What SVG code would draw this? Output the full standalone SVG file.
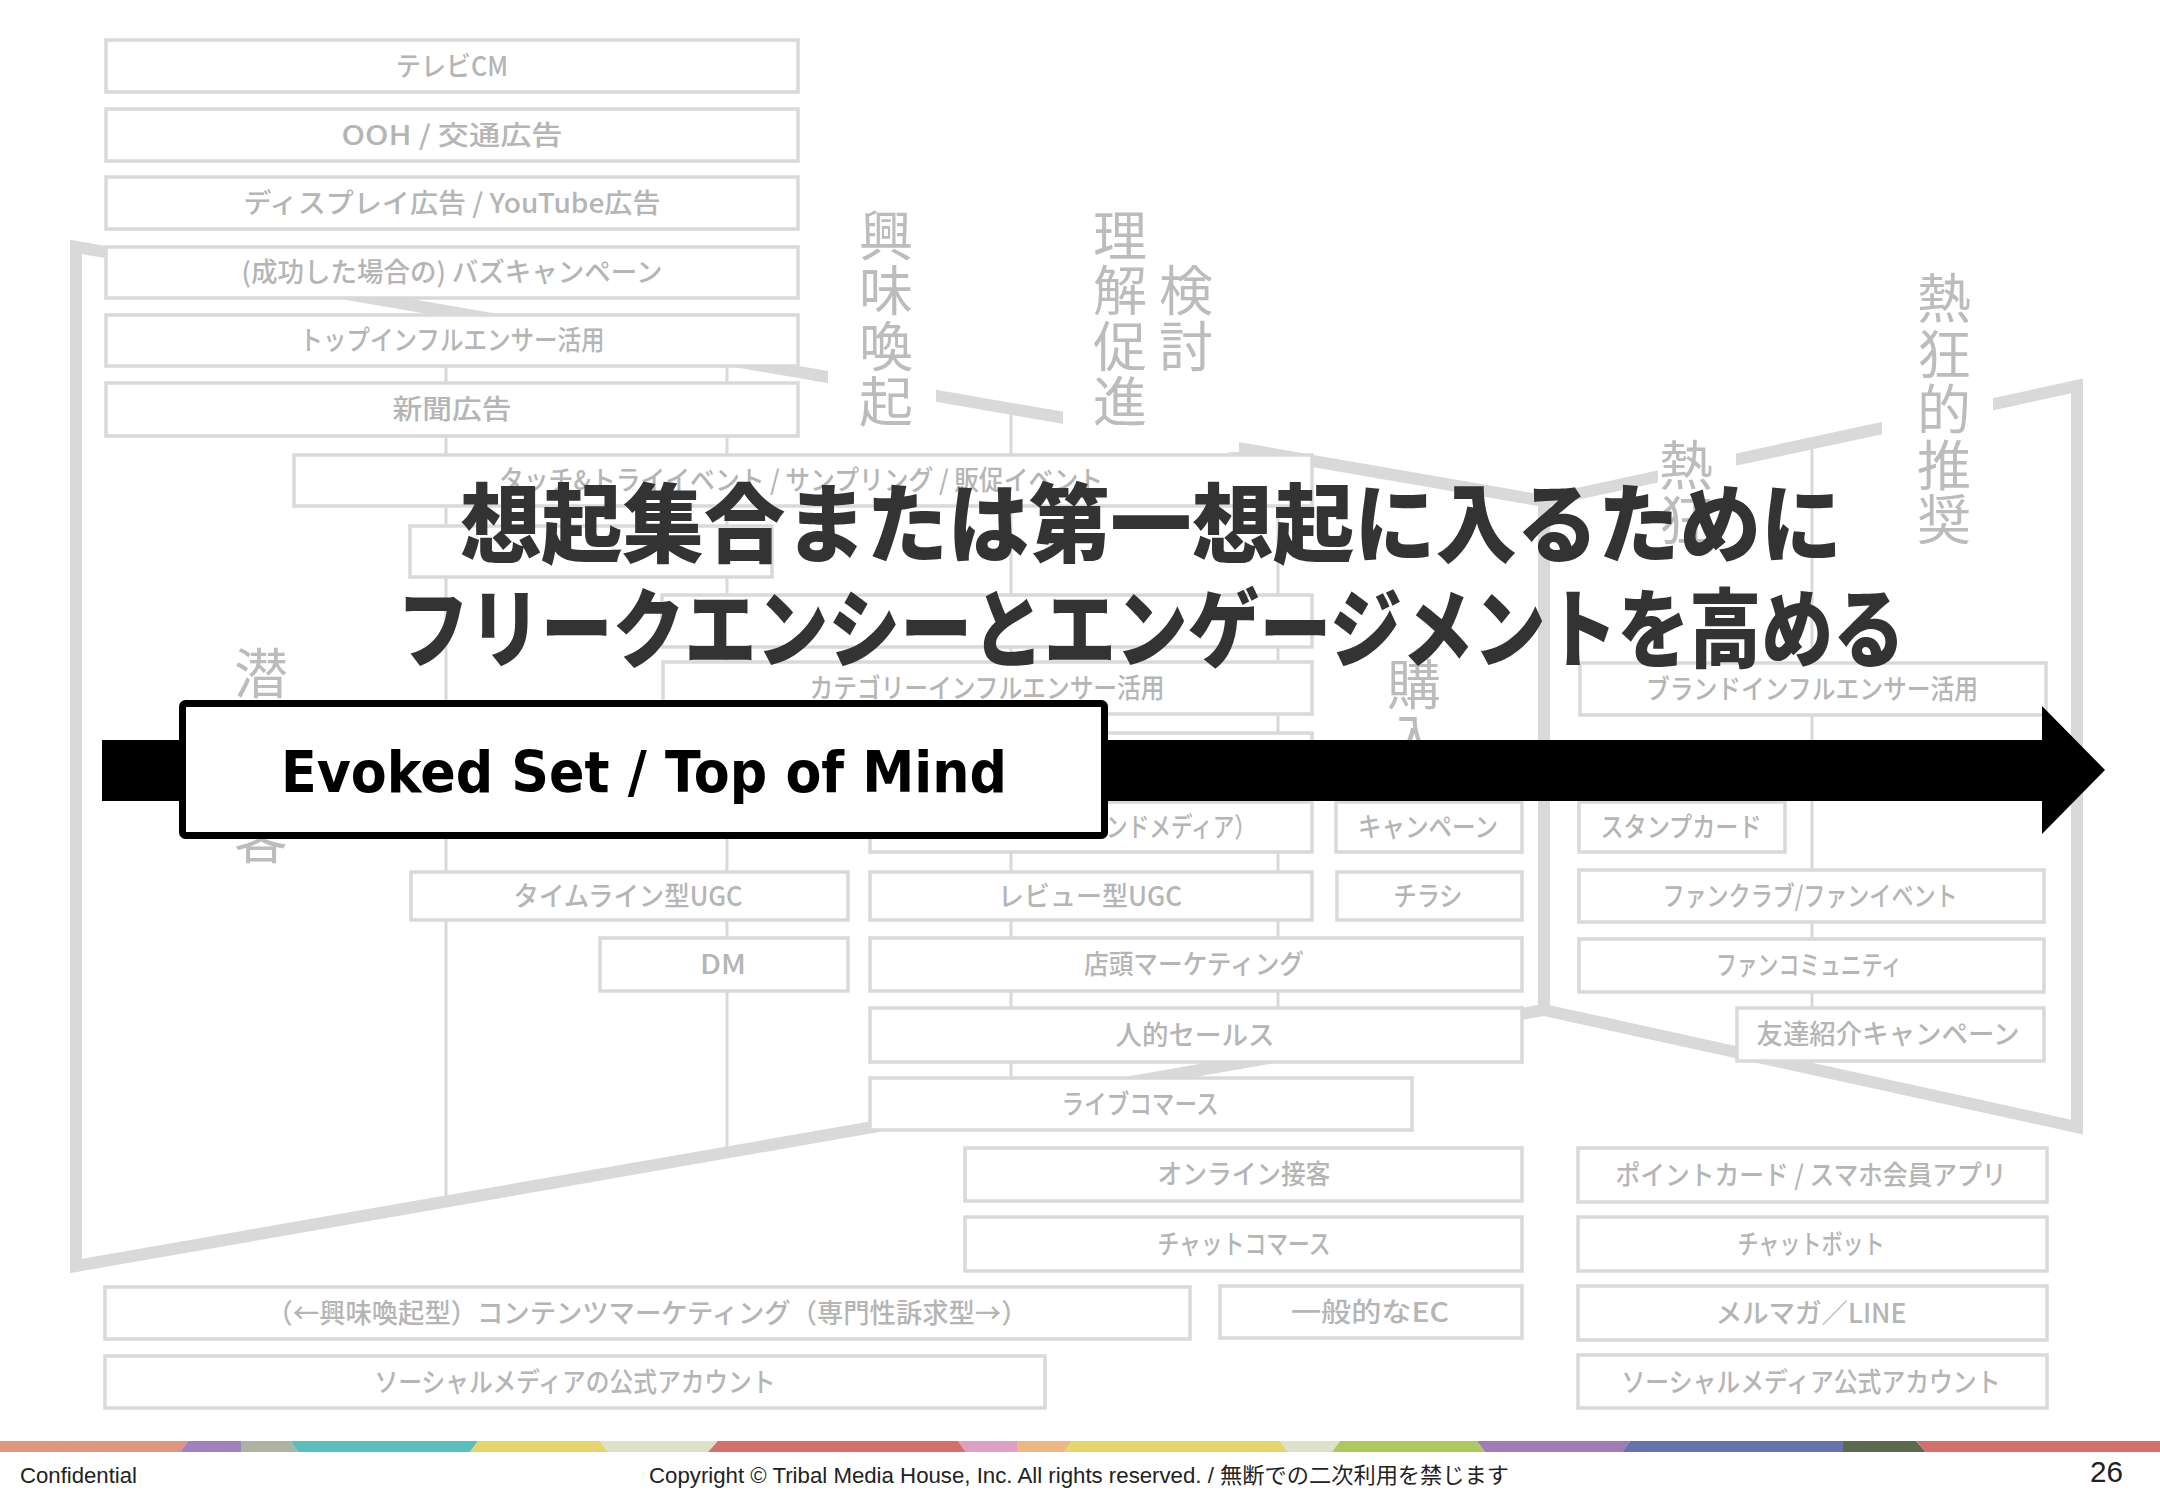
<svg xmlns="http://www.w3.org/2000/svg" width="2160" height="1495" viewBox="0 0 2160 1495">
<style>
.box{fill:#fff;stroke:#d9d9d9;stroke-width:3.5}
.lbl{font-family:"Noto Sans CJK JP","Liberation Sans",sans-serif;font-size:27px;font-weight:500;fill:#b5b5b5;text-anchor:middle}
.stage{font-family:"Noto Sans CJK JP",sans-serif;font-size:54px;fill:#bcbcbc;text-anchor:middle}
.band{fill:none;stroke:#d9d9d9;stroke-width:12;stroke-linejoin:miter}
.thin{stroke:#d9d9d9;stroke-width:3;fill:none}
.title{font-family:"Noto Sans CJK JP",sans-serif;font-size:86px;font-weight:900;fill:#333}
.foot{font-family:"Liberation Sans","Noto Sans CJK JP",sans-serif;fill:#222}
</style>
<rect width="2160" height="1495" fill="#fff"/>

<g id="funnel-outline">
<polygon class="band" points="76,247 1544,501 1544,1010 76,1266"/>
<polygon class="band" points="1544,501 2077,386 2077,1127 1544,1010"/>
</g>

<g id="connectors">
<line class="thin" x1="446" y1="311" x2="446" y2="1202"/>
<line class="thin" x1="727" y1="360" x2="727" y2="1153"/>
<line class="thin" x1="1011" y1="409" x2="1011" y2="1103"/>
<line class="thin" x1="1278" y1="455" x2="1278" y2="1057"/>
<line class="thin" x1="1812" y1="443" x2="1812" y2="1069"/>
</g>

<g id="stage-backgrounds" fill="#fff">
<rect x="828" y="200" width="108" height="235"/>
<rect x="1063" y="200" width="176" height="252"/>
<rect x="1882" y="262" width="111" height="290"/>
<rect x="1658" y="432" width="78" height="120"/>
</g>

<g id="left-boxes">
<g id="n-tvcm"><rect class="box" x="106" y="40" width="692" height="52"/><text class="lbl" x="452" y="76" textLength="112" lengthAdjust="spacingAndGlyphs">テレビCM</text></g>
<g id="n-ooh"><rect class="box" x="106" y="109" width="692" height="52"/><text class="lbl" x="452" y="145" textLength="221" lengthAdjust="spacingAndGlyphs">OOH / 交通広告</text></g>
<g id="n-display"><rect class="box" x="106" y="177" width="692" height="52"/><text class="lbl" x="452" y="213" textLength="417" lengthAdjust="spacingAndGlyphs">ディスプレイ広告 / YouTube広告</text></g>
<g id="n-buzz"><rect class="box" x="106" y="247" width="692" height="51"/><text class="lbl" x="452" y="282" textLength="421" lengthAdjust="spacingAndGlyphs">(成功した場合の) バズキャンペーン</text></g>
<g id="n-topinf"><rect class="box" x="106" y="315" width="692" height="51"/><text class="lbl" x="452" y="350" textLength="305" lengthAdjust="spacingAndGlyphs">トップインフルエンサー活用</text></g>
<g id="n-newspaper"><rect class="box" x="106" y="383" width="692" height="53"/><text class="lbl" x="452" y="419" textLength="119" lengthAdjust="spacingAndGlyphs">新聞広告</text></g>
<g id="n-touch"><rect class="box" x="294" y="455" width="1018" height="51"/><text class="lbl" x="801" y="490" textLength="604" lengthAdjust="spacingAndGlyphs">タッチ&amp;トライイベント / サンプリング / 販促イベント</text></g>
<g id="n-hidden1"><rect class="box" x="410" y="526" width="362" height="51"/></g>
<g id="n-hidden2"><rect class="box" x="662" y="595" width="650" height="52"/></g>
<g id="n-catinf"><rect class="box" x="663" y="662" width="649" height="52"/><text class="lbl" x="987" y="698" textLength="355" lengthAdjust="spacingAndGlyphs">カテゴリーインフルエンサー活用</text></g>
<g id="n-hidden3"><rect class="box" x="870" y="733" width="442" height="52"/></g>
<g id="n-owned"><rect class="box" x="870" y="802" width="442" height="50"/><text class="lbl" x="1256" y="837" style="text-anchor:end" textLength="150" lengthAdjust="spacingAndGlyphs">ンドメディア）</text></g>
<g id="n-timeline"><rect class="box" x="411" y="872" width="437" height="48"/><text class="lbl" x="628" y="906" textLength="229" lengthAdjust="spacingAndGlyphs">タイムライン型UGC</text></g>
<g id="n-review"><rect class="box" x="870" y="872" width="442" height="48"/><text class="lbl" x="1090" y="906" textLength="184" lengthAdjust="spacingAndGlyphs">レビュー型UGC</text></g>
<g id="n-dm"><rect class="box" x="600" y="938" width="248" height="53"/><text class="lbl" x="723" y="974" textLength="46" lengthAdjust="spacingAndGlyphs">DM</text></g>
<g id="n-instore"><rect class="box" x="870" y="938" width="652" height="53"/><text class="lbl" x="1194" y="974" textLength="220" lengthAdjust="spacingAndGlyphs">店頭マーケティング</text></g>
<g id="n-sales"><rect class="box" x="870" y="1008" width="652" height="54"/><text class="lbl" x="1195" y="1045" textLength="159" lengthAdjust="spacingAndGlyphs">人的セールス</text></g>
<g id="n-live"><rect class="box" x="870" y="1078" width="542" height="52"/><text class="lbl" x="1140" y="1114" textLength="157" lengthAdjust="spacingAndGlyphs">ライブコマース</text></g>
<g id="n-online"><rect class="box" x="965" y="1148" width="557" height="53"/><text class="lbl" x="1244" y="1184" textLength="173" lengthAdjust="spacingAndGlyphs">オンライン接客</text></g>
<g id="n-chatcom"><rect class="box" x="965" y="1217" width="557" height="54"/><text class="lbl" x="1244" y="1254" textLength="173" lengthAdjust="spacingAndGlyphs">チャットコマース</text></g>
<g id="n-content"><rect class="box" x="105" y="1287" width="1085" height="52"/><text class="lbl" x="647" y="1323" textLength="761" lengthAdjust="spacingAndGlyphs">（←興味喚起型）コンテンツマーケティング（専門性訴求型→）</text></g>
<g id="n-ec"><rect class="box" x="1220" y="1286" width="302" height="52"/><text class="lbl" x="1370" y="1322" textLength="158" lengthAdjust="spacingAndGlyphs">一般的なEC</text></g>
<g id="n-sns"><rect class="box" x="105" y="1356" width="940" height="52"/><text class="lbl" x="575" y="1392" textLength="401" lengthAdjust="spacingAndGlyphs">ソーシャルメディアの公式アカウント</text></g>
</g>

<g id="purchase-boxes">
<g id="n-campaign"><rect class="box" x="1336" y="802" width="186" height="50"/><text class="lbl" x="1428" y="837" textLength="140" lengthAdjust="spacingAndGlyphs">キャンペーン</text></g>
<g id="n-flyer"><rect class="box" x="1337" y="872" width="185" height="48"/><text class="lbl" x="1428" y="906" textLength="69" lengthAdjust="spacingAndGlyphs">チラシ</text></g>
</g>

<g id="loyalty-boxes">
<g id="n-brandinf"><rect class="box" x="1580" y="663" width="466" height="52"/><text class="lbl" x="1812" y="699" textLength="332" lengthAdjust="spacingAndGlyphs">ブランドインフルエンサー活用</text></g>
<g id="n-stamp"><rect class="box" x="1579" y="802" width="206" height="50"/><text class="lbl" x="1681" y="837" textLength="161" lengthAdjust="spacingAndGlyphs">スタンプカード</text></g>
<g id="n-fanclub"><rect class="box" x="1579" y="870" width="465" height="52"/><text class="lbl" x="1810" y="906" textLength="295" lengthAdjust="spacingAndGlyphs">ファンクラブ/ファンイベント</text></g>
<g id="n-community"><rect class="box" x="1579" y="939" width="465" height="53"/><text class="lbl" x="1809" y="975" textLength="186" lengthAdjust="spacingAndGlyphs">ファンコミュニティ</text></g>
<g id="n-referral"><rect class="box" x="1737" y="1008" width="307" height="53"/><text class="lbl" x="1888" y="1044" textLength="263" lengthAdjust="spacingAndGlyphs">友達紹介キャンペーン</text></g>
<g id="n-point"><rect class="box" x="1578" y="1148" width="469" height="54"/><text class="lbl" x="1811" y="1185" textLength="391" lengthAdjust="spacingAndGlyphs">ポイントカード / スマホ会員アプリ</text></g>
<g id="n-chatbot"><rect class="box" x="1578" y="1217" width="469" height="54"/><text class="lbl" x="1811" y="1254" textLength="147" lengthAdjust="spacingAndGlyphs">チャットボット</text></g>
<g id="n-mail"><rect class="box" x="1578" y="1286" width="469" height="54"/><text class="lbl" x="1811" y="1323" textLength="191" lengthAdjust="spacingAndGlyphs">メルマガ／LINE</text></g>
<g id="n-sns2"><rect class="box" x="1578" y="1355" width="469" height="53"/><text class="lbl" x="1811" y="1392" textLength="379" lengthAdjust="spacingAndGlyphs">ソーシャルメディア公式アカウント</text></g>
</g>

<g id="stage-labels">
<g id="s-latent"><text class="stage" x="261" y="694">潜</text><text class="stage" x="261" y="749">在</text><text class="stage" x="261" y="804">顧</text><text class="stage" x="261" y="859">客</text></g>
<g id="s-interest"><text class="stage" x="886" y="256">興</text><text class="stage" x="886" y="311">味</text><text class="stage" x="886" y="367">喚</text><text class="stage" x="886" y="422">起</text></g>
<g id="s-understand"><text class="stage" x="1120" y="256">理</text><text class="stage" x="1120" y="311">解</text><text class="stage" x="1120" y="367">促</text><text class="stage" x="1120" y="422">進</text></g>
<g id="s-consider"><text class="stage" x="1186" y="311">検</text><text class="stage" x="1186" y="367">討</text></g>
<g id="s-purchase"><text class="stage" x="1414" y="705">購</text><text class="stage" x="1414" y="760">入</text></g>
<g id="s-enthusiasm"><text class="stage" x="1686" y="486">熱</text><text class="stage" x="1686" y="541">狂</text></g>
<g id="s-advocacy"><text class="stage" x="1944" y="319">熱</text><text class="stage" x="1944" y="375">狂</text><text class="stage" x="1944" y="430">的</text><text class="stage" x="1944" y="486">推</text><text class="stage" x="1944" y="540">奨</text></g>
</g>

<g id="title">
<text class="title" x="460" y="556" textLength="1382" lengthAdjust="spacingAndGlyphs">想起集合または第一想起に入るために</text>
<text class="title" x="397" y="661" textLength="1508" lengthAdjust="spacingAndGlyphs">フリークエンシーとエンゲージメントを高める</text>
</g>

<g id="arrow">
<polygon points="102,740 2042,740 2042,706 2105,770 2042,834 2042,801 102,801" fill="#000"/>
</g>

<g id="n-evoked">
<rect x="182.5" y="703.5" width="922" height="132" rx="3" fill="#fff" stroke="#000" stroke-width="7"/>
<text x="281" y="792" font-family="'DejaVu Sans','Liberation Sans',sans-serif" font-size="57" font-weight="bold" fill="#000" textLength="726" lengthAdjust="spacingAndGlyphs">Evoked Set / Top of Mind</text>
</g>

<g id="footer">
<polygon points="0,1441 188,1441 180,1452 0,1452" fill="#e0967e"/>
<polygon points="188,1441 241,1441 241,1452 180,1452" fill="#a083be"/>
<polygon points="241,1441 290,1441 298,1452 241,1452" fill="#aeb2a2"/>
<polygon points="290,1441 478,1441 470,1452 298,1452" fill="#5abebc"/>
<polygon points="478,1441 600,1441 608,1452 470,1452" fill="#e6d56c"/>
<polygon points="600,1441 718,1441 708,1452 608,1452" fill="#dce2c8"/>
<polygon points="718,1441 958,1441 966,1452 708,1452" fill="#d4706c"/>
<polygon points="958,1441 1017,1441 1017,1452 966,1452" fill="#dea0c2"/>
<polygon points="1017,1441 1072,1441 1064,1452 1017,1452" fill="#edb77f"/>
<polygon points="1072,1441 1280,1441 1288,1452 1064,1452" fill="#e6d56c"/>
<polygon points="1280,1441 1340,1441 1332,1452 1288,1452" fill="#dce2c8"/>
<polygon points="1340,1441 1477,1441 1485,1452 1332,1452" fill="#adc95e"/>
<polygon points="1477,1441 1630,1441 1622,1452 1485,1452" fill="#a07cb6"/>
<polygon points="1630,1441 1843,1441 1843,1452 1622,1452" fill="#6872ae"/>
<polygon points="1843,1441 1916,1441 1926,1452 1843,1452" fill="#5b6a4e"/>
<polygon points="1916,1441 2160,1441 2160,1452 1926,1452" fill="#d4706c"/>
<text class="foot" x="20" y="1483" font-size="22" textLength="117" lengthAdjust="spacingAndGlyphs">Confidential</text>
<text class="foot" x="649" y="1483" font-size="22" textLength="860" lengthAdjust="spacingAndGlyphs">Copyright © Tribal Media House, Inc. All rights reserved. / 無断での二次利用を禁じます</text>
<text class="foot" x="2090" y="1482" font-size="30" textLength="33" lengthAdjust="spacingAndGlyphs">26</text>
</g>
</svg>
